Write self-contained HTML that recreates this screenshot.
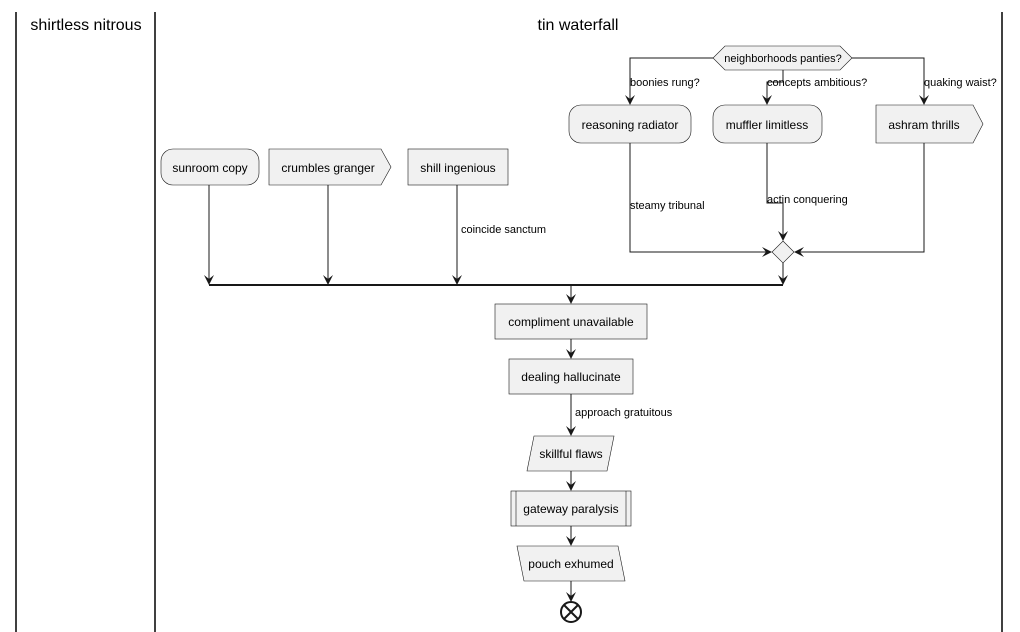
<!DOCTYPE html>
<html><head><meta charset="utf-8"><style>body{margin:0;background:#fff}svg{display:block}text{font-family:"Liberation Sans",Arial,sans-serif}</style></head><body>
<svg width="1020" height="632" viewBox="0 0 1020 632" xmlns="http://www.w3.org/2000/svg">
<defs><marker id="a" viewBox="0 0 10 10" refX="9" refY="5" markerWidth="10" markerHeight="10" markerUnits="userSpaceOnUse" orient="auto"><path d="M0,0 L10,5 L0,10 L4,5 Z" fill="#181818"/></marker></defs>
<g stroke="#000" stroke-width="1.5"><line x1="16" y1="12" x2="16" y2="632"/><line x1="155" y1="12" x2="155" y2="632"/><line x1="1002" y1="12" x2="1002" y2="632"/></g>
<text x="86" y="30" font-size="16" text-anchor="middle">shirtless nitrous</text>
<text x="578" y="30" font-size="16" text-anchor="middle">tin waterfall</text>
<g fill="none" stroke="#181818" stroke-width="1">
<path d="M713,58 H630 V104" marker-end="url(#a)"/>
<path d="M852,58 H924 V104" marker-end="url(#a)"/>
<path d="M783,70 V82 H767 V104" marker-end="url(#a)"/>
<path d="M630,143 V252 H771" marker-end="url(#a)"/>
<path d="M767,143 V203 H783 V240" marker-end="url(#a)"/>
<path d="M924,143 V252 H795" marker-end="url(#a)"/>
<path d="M783,263 V284" marker-end="url(#a)"/>
<path d="M209,185 V284" marker-end="url(#a)"/>
<path d="M328,185 V284" marker-end="url(#a)"/>
<path d="M457,185 V284" marker-end="url(#a)"/>
<path d="M571,285 V303" marker-end="url(#a)"/>
<path d="M571,339 V358" marker-end="url(#a)"/>
<path d="M571,394 V435" marker-end="url(#a)"/>
<path d="M571,471 V490" marker-end="url(#a)"/>
<path d="M571,526 V545" marker-end="url(#a)"/>
<path d="M571,581 V601" marker-end="url(#a)"/>
</g>
<line x1="209" y1="285" x2="783" y2="285" stroke="#181818" stroke-width="2"/>
<g fill="#f1f1f1" stroke="#181818" stroke-width="0.6">
<polygon points="725,46 840,46 852,58 840,70 725,70 713,58"/>
<rect x="569" y="105" width="122" height="38" rx="12"/>
<rect x="713" y="105" width="109" height="38" rx="12"/>
<polygon points="876,105 973,105 983,124 973,143 876,143"/>
<rect x="161" y="149" width="98" height="36" rx="12"/>
<polygon points="269,149 381,149 391,167 381,185 269,185"/>
<rect x="408" y="149" width="100" height="36"/>
<polygon points="783,241 794,252 783,263 772,252"/>
<rect x="495" y="304" width="152" height="35"/>
<rect x="509" y="359" width="124" height="35"/>
<polygon points="534,436 614,436 607,471 527,471"/>
<rect x="511" y="491" width="120" height="35"/>
<line x1="516" y1="491" x2="516" y2="526"/><line x1="626" y1="491" x2="626" y2="526"/>
<polygon points="517,546 618,546 625,581 524,581"/>
</g>
<circle cx="571" cy="612" r="10" fill="none" stroke="#181818" stroke-width="2"/>
<path d="M564,605 L578,619 M578,605 L564,619" stroke="#181818" stroke-width="2"/>
<g font-size="12" text-anchor="middle" fill="#000">
<text x="783" y="62" font-size="11">neighborhoods panties?</text>
<text x="630" y="129">reasoning radiator</text>
<text x="767" y="129">muffler limitless</text>
<text x="924" y="129">ashram thrills</text>
<text x="210" y="172">sunroom copy</text>
<text x="328" y="172">crumbles granger</text>
<text x="458" y="172">shill ingenious</text>
<text x="571" y="326">compliment unavailable</text>
<text x="571" y="381">dealing hallucinate</text>
<text x="571" y="458">skillful flaws</text>
<text x="571" y="513">gateway paralysis</text>
<text x="571" y="568">pouch exhumed</text>
</g>
<g font-size="11" fill="#000">
<text x="630" y="86">boonies rung?</text>
<text x="767" y="86">concepts ambitious?</text>
<text x="924" y="86">quaking waist?</text>
<text x="630" y="209">steamy tribunal</text>
<text x="767" y="203">actin conquering</text>
<text x="461" y="233">coincide sanctum</text>
<text x="575" y="416">approach gratuitous</text>
</g>
</svg>
</body></html>
